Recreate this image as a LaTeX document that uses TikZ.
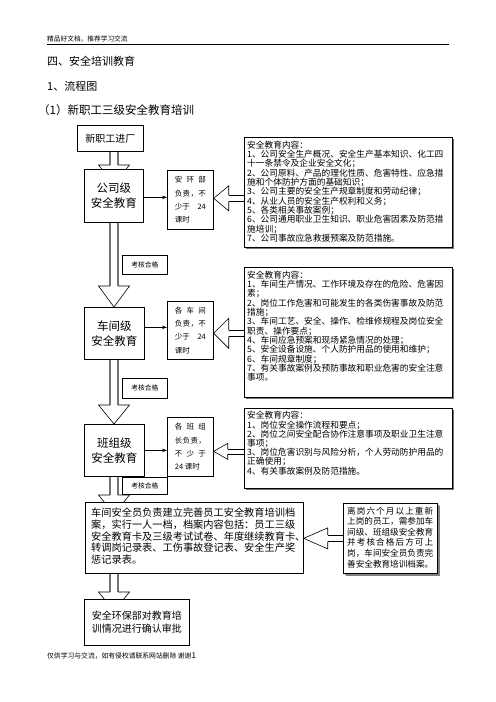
\documentclass[tikz,border=0pt]{standalone}
\usepackage{fontspec}
\setmainfont{Noto Sans CJK SC}
\usetikzlibrary{calc,arrows.meta,backgrounds,shadows}
\newcommand\fs[2]{\fontsize{#1bp}{#2bp}\selectfont}
\newcommand\blockdown[4]{%
  \draw[dshaft] ($(spine |- #1.south)+(-4,0)$) -- ($(spine |- #2.north)+(-4,-#3)$);
  \draw[dshaft] ($(spine |- #1.south)+(4,0)$) -- ($(spine |- #2.north)+(4,-#3)$);
  \draw[ahead] ($(spine |- #2.north)+(-4,-#3)$) -- ($(spine |- #2.north)+(-15.5,-#3)$) -- ($(spine |- #2.north)+(0,#4-#3)$) -- ($(spine |- #2.north)+(15.5,-#3)$) -- ($(spine |- #2.north)+(4,-#3)$);
}
\newcommand\blockleft[6]{%
  \coordinate (bt) at ($(#2.east)+(0,#3)$);
  \coordinate (bu) at ($(bt)+(#6,-#5)$);
  \coordinate (bl) at ($(bt)+(#6,#5)$);
  \draw[ahead] (bu) -- ($(bt)+(#6,-#4)$) -- (bt) -- ($(bt)+(#6,#4)$) -- (bl);
  \draw[ahead] (bu) -- (bu -| #1.west);
  \draw[ahead] (bl) -- (bl -| #1.west);
}
\begin{document}
\begin{tikzpicture}[x=1bp,y=-1bp,
  box/.style={draw,line width=0.7bp,fill=white,inner sep=0pt,anchor=north west},
  level/.style={box,align=center,font=\fs{11.5}{15}},
  resp/.style={box,align=left,font=\fs{7.5}{13.3}},
  passbox/.style={box,font=\fs{6.8}{8}},
  content/.style={box,drop shadow={shadow xshift=1.6bp,shadow yshift=-1.6bp,fill=black!55,opacity=1}},
  ctext/.style={anchor=north west,inner sep=0pt,align=left,font=\fs{8.7}{9.3}},
  conn/.style={line width=0.7bp,-{Stealth[length=5bp,width=3.5bp]}},
  dshaft/.style={draw=black!55,line width=1.8bp},
  ahead/.style={line width=0.6bp,line join=miter},
  plain/.style={anchor=west,inner sep=0pt}
]
\useasboundingbox (0,0) rectangle (496,702);
\coordinate (spine) at (114,0);

% header
\node[plain,font=\fs{6.7}{8}] (hdr) at (47,39) {精品好文档，推荐学习交流};
\coordinate (hl) at (47,44.5);
\coordinate (hr) at (449,44.5);
\draw[line width=0.8bp] (hl) -- (hr);
\node[plain,font=\fs{11}{13}] (t4) at (47,61.5) {四、安全培训教育};
\node[plain,font=\fs{11}{13}] (t1) at (47,86) {1、流程图};
\node[plain,font=\fs{11.5}{13}] (tsub) at (38,110) {（1）新职工三级安全教育培训};

% main column
\node[box,font=\fs{10}{12},minimum width=66bp,minimum height=26bp] (n0) at (77,125) {新职工进厂};
\node[level,minimum width=59bp,minimum height=53bp] (c1) at (84,169) {公司级\\安全教育};
\node[level,minimum width=60bp,minimum height=52bp] (c2) at (84,307) {车间级\\安全教育};
\node[level,minimum width=60bp,minimum height=52bp] (c3) at (84,424) {班组级\\安全教育};

% responsibility boxes
\node[resp,minimum width=46bp,minimum height=59bp] (r1) at (167,170) {%
  \hbox to 31bp{安\hfil 环\hfil 部}\\\hbox to 31bp{负\hfil 责\hfil ，\hfil 不}\\\hbox to 31bp{少于\hfil 24}\\课时};
\node[resp,minimum width=46bp,minimum height=58bp] (r2) at (167,301) {%
  \hbox to 31bp{各\hfil 车\hfil 间}\\\hbox to 31bp{负\hfil 责\hfil ，\hfil 不}\\\hbox to 31bp{少于\hfil 24}\\课时};
\node[resp,minimum width=46bp,minimum height=59bp] (r3) at (167,417) {%
  \hbox to 31bp{各\hfil 班\hfil 组}\\\hbox to 31bp{长\hfil 负\hfil 责\hfil ，}\\\hbox to 31bp{不\hfil 少\hfil 于}\\24 课时};

% pass boxes
\node[passbox,minimum width=45bp,minimum height=19bp] (k1) at (122,255) {考核合格};
\node[passbox,minimum width=45bp,minimum height=20bp] (k2) at (122,378) {考核合格};
\node[passbox,minimum width=45bp,minimum height=17bp] (k3) at (122,477) {考核合格};

% content boxes
\node[content,minimum width=208bp,minimum height=110bp] (b1) at (244,137) {};
\node[ctext] (b1t) at ($(b1.north west)+(3,3.7)$) {安全教育内容：\\
1、公司安全生产概况、安全生产基本知识、化工四\\
十一条禁令及企业安全文化；\\
2、公司原料、产品的理化性质、危害特性、应急措\\
施和个体防护方面的基础知识；\\
3、公司主要的安全生产规章制度和劳动纪律；\\
4、从业人员的安全生产权利和义务；\\
5、各类相关事故案例；\\
6、公司通用职业卫生知识、职业危害因素及防范措\\
施培训；\\
7、公司事故应急救援预案及防范措施。};

\node[content,minimum width=208bp,minimum height=130bp] (b2) at (244,267) {};
\node[ctext] (b2t) at ($(b2.north west)+(3,3.7)$) {安全教育内容：\\
1、车间生产情况、工作环境及存在的危险、危害因\\
素；\\
2、岗位工作危害和可能发生的各类伤害事故及防范\\
措施；\\
3、车间工艺、安全、操作、检维修规程及岗位安全\\
职责、操作要点；\\
4、车间应急预案和现场紧急情况的处理；\\
5、安全设备设施、个人防护用品的使用和维护；\\
6、车间规章制度；\\
7、有关事故案例及预防事故和职业危害的安全注意\\
事项。};

\node[content,minimum width=208bp,minimum height=80bp] (b3) at (244,408) {};
\node[ctext,font=\fs{8.7}{9.2}] (b3t) at ($(b3.north west)+(3,3.2)$) {安全教育内容：\\
1、岗位安全操作流程和要点；\\
2、岗位之间安全配合协作注意事项及职业卫生注意\\
事项；\\
3、岗位危害识别与风险分析，个人劳动防护用品的\\
正确使用；\\
4、有关事故案例及防范措施。};

% archive box
\node[box,minimum width=218bp,minimum height=71bp] (big) at (85,502) {};
\node[ctext,font=\fs{10.2}{11.7}] (bigt) at ($(big.north west)+(6,6)$) {车间安全员负责建立完善员工安全教育培训档\\
案，实行一人一档，档案内容包括：员工三级\\
安全教育卡及三级考试试卷、年度继续教育卡、\\
转调岗记录表、工伤事故登记表、安全生产奖\\
惩记录表。};

\node[content,minimum width=94bp,minimum height=70bp,drop shadow={shadow xshift=2.2bp,shadow yshift=-2.2bp,fill=black!50,opacity=1}] (lv) at (343,503) {};
\node[ctext,font=\fs{8.6}{10.6}] (lvt) at ($(lv.north west)+(4,3.6)$) {\hbox to 86bp{离\hfil 岗\hfil 六\hfil 个\hfil 月\hfil 以\hfil 上\hfil 重\hfil 新}\\
上岗的员工，需参加车\\
间级、班组级安全教育\\
\hbox to 86bp{并\hfil 考\hfil 核\hfil 合\hfil 格\hfil 后\hfil 方\hfil 可\hfil 上}\\
岗，车间安全员负责完\\
善安全教育培训档案。};

\node[box,align=center,font=\fs{10}{13},minimum width=105bp,minimum height=46bp] (fin) at (84,599) {安全环保部对教育培\\训情况进行确认审批};

% footer
\node[plain,font=\fs{6.8}{8}] (ftr) at (47,656) {仅供学习与交流，如有侵权请联系网站删除 谢谢{\fs{8}{8}1}};

% thin arrows
\draw[conn] ($(c1.east)+(0,1.5)$) coordinate (a1) -- (a1 -| r1.west);
\draw[conn] ($(c2.east)+(0,-6)$) coordinate (a2) -- (a2 -| r2.west);
\draw[conn] (c3.east) -- (c3.east -| r3.west);

% hollow left arrows
\blockleft{b1}{r1}{-1.5}{12.5}{3}{15}
\blockleft{b2}{r2}{3}{15}{3}{15}
\blockleft{b3}{r3}{4.5}{8}{2.5}{14}
\blockleft{lv}{big}{0.5}{10.5}{3.3}{24}

% hollow down arrows (behind the boxes)
\begin{pgfonlayer}{background}
\blockdown{n0}{c1}{4}{19}
\blockdown{c1}{c2}{21}{21}
\blockdown{c2}{c3}{19}{19}
\blockdown{c3}{big}{7}{19}
\blockdown{big}{fin}{7}{19}
\end{pgfonlayer}
\end{tikzpicture}
\end{document}
